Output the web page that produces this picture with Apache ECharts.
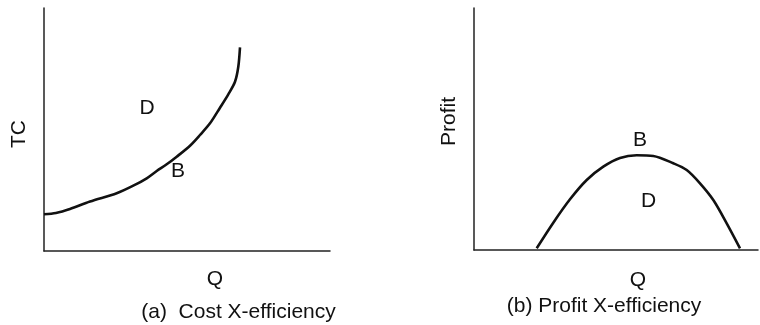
<!DOCTYPE html>
<html>
<head>
<meta charset="utf-8">
<script src="https://cdn.jsdelivr.net/npm/echarts@6/dist/echarts.min.js"></script>
<style>html,body{margin:0;padding:0;background:#fff}#c{width:760px;height:325px}</style>
</head>
<body>
<div id="c"></div>
<script>
// Panel (a): cost curve, arbitrary units (Q, TC)
var costQ  = [0, 12, 26, 46, 72.7, 89.3, 102.7, 112.7, 122.7, 132.7, 146, 156, 166, 176, 184.3, 191, 194.3, 196];
var costTC = [36.7, 38, 42, 49.5, 57.7, 65.3, 72.7, 80, 86.7, 94.3, 105.3, 116, 127.7, 143.3, 156.7, 169.3, 184.3, 203.7];
// Panel (b): profit curve, arbitrary units (Q, Profit)
var profQ  = [62.7, 79.3, 96, 112.7, 129.3, 146, 162.7, 179.3, 199.3, 212.7, 226, 239.3, 252.7, 266];
var profP  = [1.7, 27.3, 50.7, 70, 83.3, 92, 94.7, 94, 86.7, 80, 66.7, 50, 26.7, 1.7];
var titles = ['(a)  Cost X-efficiency', '(b) Profit X-efficiency'];
var axisNamesA = ['Q', 'TC'];
var axisNamesB = ['Q', 'Profit'];

function zip(a, b) { return a.map(function (v, i) { return [v, b[i]]; }); }

var FONT = '"Liberation Sans", Arial, Helvetica, sans-serif';
var axisStyle = { show: true, lineStyle: { color: '#222', width: 1.5 } };
function vAxis(idx, max) {
  return { type: 'value', gridIndex: idx, min: 0, max: max,
    axisLine: axisStyle, axisTick: { show: false }, axisLabel: { show: false }, splitLine: { show: false } };
}
function txt(x, y, s, rot) {
  return { type: 'text', x: x, y: y, rotation: rot || 0,
    style: { text: s, font: '21px ' + FONT, fill: '#111', textAlign: 'center', textVerticalAlign: 'middle' } };
}

var chart = echarts.init(document.getElementById('c'), null, { renderer: 'canvas' });
chart.setOption({
  animation: false,
  backgroundColor: '#fff',
  grid: [
    { left: 44, top: 8, width: 286, height: 243 },
    { left: 474, top: 8, width: 284, height: 242 }
  ],
  xAxis: [vAxis(0, 286), vAxis(1, 284)],
  yAxis: [vAxis(0, 243), vAxis(1, 242)],
  series: [
    { type: 'line', xAxisIndex: 0, yAxisIndex: 0, data: zip(costQ, costTC), smooth: 0.3,
      showSymbol: false, lineStyle: { color: '#111', width: 2.6 } },
    { type: 'line', xAxisIndex: 1, yAxisIndex: 1, data: zip(profQ, profP), smooth: 0.3,
      showSymbol: false, lineStyle: { color: '#111', width: 2.6 } }
  ],
  graphic: [
    txt(19, 134, axisNamesA[1], Math.PI / 2),
    txt(215, 279, axisNamesA[0]),
    txt(147, 108, 'D'),
    txt(178, 171, 'B'),
    txt(238.5, 312, titles[0]),
    txt(449, 121.5, axisNamesB[1], Math.PI / 2),
    txt(638, 280, axisNamesB[0]),
    txt(640, 140, 'B'),
    txt(648.5, 201, 'D'),
    txt(604, 306, titles[1])
  ]
});
</script>
</body>
</html>
